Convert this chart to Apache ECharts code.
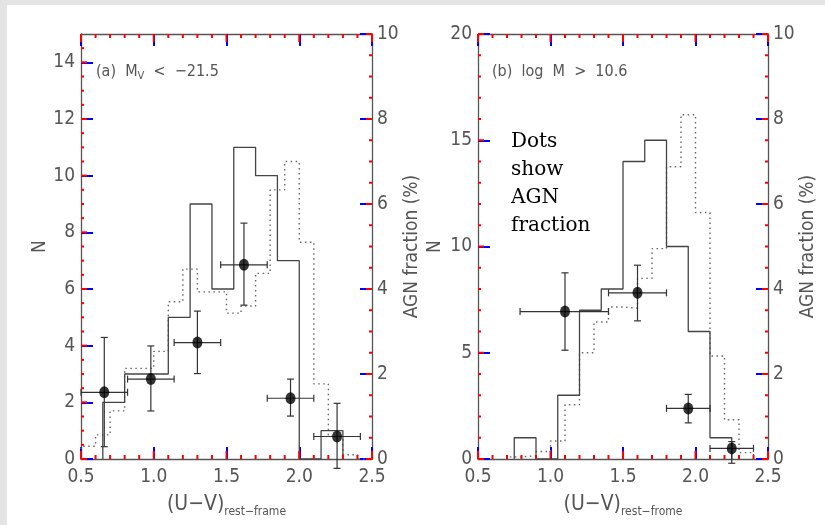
<!DOCTYPE html>
<html><head><meta charset="utf-8">
<script src="https://cdn.jsdelivr.net/npm/echarts@6/dist/echarts.min.js"></script>
<style>
html,body{margin:0;padding:0;background:#e4e4e4;}
#frame{position:absolute;left:7px;top:5px;width:818px;height:520px;background:#fff;}
#c{position:absolute;left:0;top:0;width:825px;height:525px;}
</style>
</head><body><div id="frame"></div><div id="c"></div>
<script>
// ---------- data ----------
const aSolidEdges  = [0.65, 0.8, 0.95, 1.1, 1.25, 1.4, 1.55, 1.7, 1.85, 2.0, 2.15, 2.3];
const aSolidCounts = [2, 3, 3, 5, 9, 6, 11, 10, 7, 0, 1];
const aDotEdges  = [0.5, 0.6, 0.7, 0.8, 0.9, 1.0, 1.1, 1.2, 1.3, 1.4, 1.5, 1.6, 1.7, 1.8, 1.9, 2.0, 2.1, 2.2, 2.3, 2.4, 2.5];
const aDotCounts = [0.45, 0.85, 1.7, 3.2, 3.2, 3.8, 5.55, 6.7, 5.9, 5.9, 5.15, 5.4, 6.55, 9.5, 10.5, 7.65, 2.65, 0.8, 0.15, 0];
const aAgnX    = [0.66, 0.98, 1.30, 1.62, 1.94, 2.26];
const aAgnY    = [1.57, 1.88, 2.74, 4.57, 1.43, 0.53];
const aAgnXlo  = [0.50, 0.82, 1.14, 1.46, 1.78, 2.10];
const aAgnXhi  = [0.82, 1.14, 1.46, 1.78, 2.10, 2.42];
const aAgnYlo  = [0.29, 1.13, 2.01, 3.62, 1.01, -0.22];
const aAgnYhi  = [2.86, 2.66, 3.48, 5.55, 1.88, 1.31];
const bSolidEdges  = [0.75, 0.9, 1.05, 1.2, 1.35, 1.5, 1.65, 1.8, 1.95, 2.1, 2.25];
const bSolidCounts = [1, 0, 3, 7, 8, 14, 15, 10, 6, 1];
const bDotEdges  = [0.7, 0.8, 0.9, 1.0, 1.1, 1.2, 1.3, 1.4, 1.5, 1.6, 1.7, 1.8, 1.9, 2.0, 2.1, 2.2, 2.3, 2.4];
const bDotCounts = [0.1, 0.15, 0.35, 0.85, 2.55, 5.0, 6.45, 7.15, 7.1, 8.5, 9.9, 13.75, 16.2, 11.6, 4.85, 1.85, 0.3];
const bAgnX    = [1.10, 1.60, 1.95, 2.25];
const bAgnY    = [3.47, 3.91, 1.19, 0.25];
const bAgnXlo  = [0.79, 1.40, 1.80, 2.10];
const bAgnXhi  = [1.40, 1.80, 2.10, 2.40];
const bAgnYlo  = [2.56, 3.25, 0.85, -0.10];
const bAgnYhi  = [4.38, 4.56, 1.52, 0.41];

const xMajorTicks = [0.5, 1.0, 1.5, 2.0, 2.5];
const xMinorTicks = [0.6, 0.7, 0.8, 0.9, 1.1, 1.2, 1.3, 1.4, 1.6, 1.7, 1.8, 1.9, 2.1, 2.2, 2.3, 2.4];
const aNMajorTicks = [0, 2, 4, 6, 8, 10, 12, 14];
const aNMinorTicks = [0.5, 1, 1.5, 2.5, 3, 3.5, 4.5, 5, 5.5, 6.5, 7, 7.5, 8.5, 9, 9.5, 10.5, 11, 11.5, 12.5, 13, 13.5, 14.5];
const bNMajorTicks = [0, 5, 10, 15, 20];
const bNMinorTicks = [1, 2, 3, 4, 6, 7, 8, 9, 11, 12, 13, 14, 16, 17, 18, 19];
const agnMajorTicks = [0, 2, 4, 6, 8, 10];
const agnMinorTicks = [0.5, 1, 1.5, 2.5, 3, 3.5, 4.5, 5, 5.5, 6.5, 7, 7.5, 8.5, 9, 9.5];
const panelLabels = ['(a)  M{s|V}  <  \u221221.5', '(b)  log  M  >  10.6'];
const xNames = ['{m|(U\u2212V)}{s|rest\u2212frame}', '{m|(U\u2212V)}{s|rest\u2212frome}'];
const noteLines = ['Dots', 'show', 'AGN', 'fraction'];

const AX = '#555';
const TICKC = 'red';
const AXTICKC = 'blue';
const FONT = "'Liberation Sans Narrow','DejaVu Sans Condensed','Liberation Sans',sans-serif";

function histData(edges, counts) {
  const d = [[edges[0], 0]];
  for (let i = 0; i < counts.length; i++) { d.push([edges[i], counts[i]]); d.push([edges[i + 1], counts[i]]); }
  d.push([edges[edges.length - 1], 0]);
  return d;
}
function errData(x, y, xlo, xhi, ylo, yhi) { return x.map((v, i) => [v, y[i], xlo[i], xhi[i], ylo[i], yhi[i]]); }
function errRender(params, api) {
  const c = api.coord([api.value(0), api.value(1)]);
  const l = api.coord([api.value(2), api.value(1)]);
  const r = api.coord([api.value(3), api.value(1)]);
  const lo = api.coord([api.value(0), api.value(4)]);
  const hi = api.coord([api.value(0), api.value(5)]);
  const st = {stroke: '#333', lineWidth: 1.2};
  const cap = 3.5;
  const ln = (x1, y1, x2, y2) => ({type: 'line', shape: {x1, y1, x2, y2}, style: st});
  return {type: 'group', children: [
    ln(l[0], c[1], r[0], c[1]), ln(c[0], lo[1], c[0], hi[1]),
    ln(l[0], c[1] - cap, l[0], c[1] + cap), ln(r[0], c[1] - cap, r[0], c[1] + cap),
    ln(c[0] - cap, lo[1], c[0] + cap, lo[1]), ln(c[0] - cap, hi[1], c[0] + cap, hi[1])
  ]};
}
function tickSeries(xIdx, yIdx, kind, majors, minors, majLen, minLen) {
  const item = (v, len) => kind === 'x' ? [v, 0, len] : [xMajorTicks[0], v, len];
  const data = majors.map(v => item(v, majLen)).concat(minors.map(v => item(v, minLen)));
  return {
    type: 'custom', xAxisIndex: xIdx, yAxisIndex: yIdx, clip: false, z: 6,
    encode: {x: 0, y: 1}, data: data,
    renderItem: function (params, api) {
      const cs = params.coordSys;
      const p = api.coord([api.value(0), api.value(1)]);
      const len = api.value(2);
      const st = {stroke: TICKC, lineWidth: 2};
      if (kind === 'x') {
        const b = cs.y + cs.height, t = cs.y;
        return {type: 'group', children: [
          {type: 'line', shape: {x1: p[0], y1: b, x2: p[0], y2: b - len}, style: st},
          {type: 'line', shape: {x1: p[0], y1: t, x2: p[0], y2: t + len}, style: st}
        ]};
      }
      const x0 = kind === 'left' ? cs.x : cs.x + cs.width;
      const x1 = kind === 'left' ? x0 + len : x0 - len;
      return {type: 'group', children: [{type: 'line', shape: {x1: x0, y1: p[1], x2: x1, y2: p[1]}, style: st}]};
    }
  };
}
function xAxis(grid, pos, name) {
  return {
    type: 'value', gridIndex: grid, position: pos, min: 0.5, max: 2.5, interval: 0.5,
    axisLine: {show: true, onZero: false, lineStyle: {color: AX, width: 1.3}},
    axisTick: {show: true, inside: true, length: 12, lineStyle: {color: AXTICKC, width: 2}},
    splitLine: {show: false},
    axisLabel: pos === 'bottom' ? {show: true, margin: 9, color: AX, fontSize: 19, fontFamily: FONT, formatter: v => v.toFixed(1)} : {show: false},
    name: pos === 'bottom' ? name : '', nameLocation: 'middle', nameGap: 33,
    nameTextStyle: {color: AX, fontFamily: FONT, rich: {m: {fontSize: 21, fontFamily: FONT, color: AX, lineHeight: 26}, s: {fontSize: 12, fontFamily: FONT, color: AX, verticalAlign: 'bottom', lineHeight: 12}}}
  };
}
function yAxis(grid, pos, max, interval, name, gap, showMax) {
  return {
    type: 'value', gridIndex: grid, position: pos, min: 0, max: max, interval: interval,
    axisLine: {show: true, onZero: false, lineStyle: {color: AX, width: 1.3}},
    axisTick: {show: true, inside: true, length: 12, lineStyle: {color: AXTICKC, width: 2}},
    splitLine: {show: false},
    axisLabel: {show: true, margin: pos === 'left' ? 6 : 5, color: AX, fontSize: 19, fontFamily: FONT, showMaxLabel: showMax},
    name: name, nameLocation: 'middle', nameGap: gap, nameRotate: 90,
    nameTextStyle: {color: AX, fontSize: 19, fontFamily: FONT}
  };
}

const chart = echarts.init(document.getElementById('c'), null, {renderer: 'canvas'});
chart.setOption({
  animation: false,
  grid: [{left: 81, top: 34, width: 291, height: 425}, {left: 478, top: 34, width: 290, height: 425}],
  xAxis: [xAxis(0, 'bottom', xNames[0]), xAxis(0, 'top', ''), xAxis(1, 'bottom', xNames[1]), xAxis(1, 'top', '')],
  yAxis: [
    yAxis(0, 'left', 15, 2, 'N', 25, false), yAxis(0, 'right', 10, 2, 'AGN fraction (%)', 24, true),
    yAxis(1, 'left', 20, 5, 'N', 33, true), yAxis(1, 'right', 10, 2, 'AGN fraction (%)', 30, true)
  ],
  series: [
    {type: 'line', xAxisIndex: 0, yAxisIndex: 0, data: histData(aDotEdges, aDotCounts), symbol: 'none', lineStyle: {color: '#666', width: 1.4, type: [1.5, 3.5]}, z: 2},
    {type: 'line', xAxisIndex: 0, yAxisIndex: 0, data: histData(aSolidEdges, aSolidCounts), symbol: 'none', lineStyle: {color: '#444', width: 1.3}, z: 3},
    {type: 'custom', xAxisIndex: 0, yAxisIndex: 1, renderItem: errRender, clip: false, data: errData(aAgnX, aAgnY, aAgnXlo, aAgnXhi, aAgnYlo, aAgnYhi), encode: {x: 0, y: 1}, z: 4},
    {type: 'scatter', xAxisIndex: 0, yAxisIndex: 1, data: aAgnX.map((v, i) => [v, aAgnY[i]]), symbol: 'circle', symbolSize: [10, 12], itemStyle: {color: '#000'}, z: 5},
    tickSeries(0, 0, 'x', xMajorTicks, xMinorTicks, 8, 4),
    tickSeries(0, 0, 'left', aNMajorTicks, aNMinorTicks, 6, 3),
    tickSeries(0, 1, 'right', agnMajorTicks, agnMinorTicks, 6, 3),
    {type: 'line', xAxisIndex: 2, yAxisIndex: 2, data: histData(bDotEdges, bDotCounts), symbol: 'none', lineStyle: {color: '#666', width: 1.4, type: [1.5, 3.5]}, z: 2},
    {type: 'line', xAxisIndex: 2, yAxisIndex: 2, data: histData(bSolidEdges, bSolidCounts), symbol: 'none', lineStyle: {color: '#444', width: 1.3}, z: 3},
    {type: 'custom', xAxisIndex: 2, yAxisIndex: 3, renderItem: errRender, clip: false, data: errData(bAgnX, bAgnY, bAgnXlo, bAgnXhi, bAgnYlo, bAgnYhi), encode: {x: 0, y: 1}, z: 4},
    {type: 'scatter', xAxisIndex: 2, yAxisIndex: 3, data: bAgnX.map((v, i) => [v, bAgnY[i]]), symbol: 'circle', symbolSize: [10, 12], itemStyle: {color: '#000'}, z: 5},
    tickSeries(2, 2, 'x', xMajorTicks, xMinorTicks, 8, 4),
    tickSeries(2, 2, 'left', bNMajorTicks, bNMinorTicks, 6, 3),
    tickSeries(2, 3, 'right', agnMajorTicks, agnMinorTicks, 6, 3)
  ],
  graphic: [
    {type: 'text', left: 96, top: 62, style: {text: panelLabels[0], fill: AX, fontSize: 16, fontFamily: FONT, lineHeight: 20, rich: {s: {fontSize: 11, fontFamily: FONT, fill: AX, verticalAlign: 'bottom', lineHeight: 11}}}},
    {type: 'text', left: 492, top: 62, style: {text: panelLabels[1], fill: AX, fontSize: 16, fontFamily: FONT, lineHeight: 20}},
    {type: 'text', left: 511, top: 128, style: {text: noteLines.join('\n'), fill: '#000', fontSize: 20, lineHeight: 28, fontFamily: "'DejaVu Serif','Liberation Serif',serif"}}
  ]
});
</script>
</body></html>
